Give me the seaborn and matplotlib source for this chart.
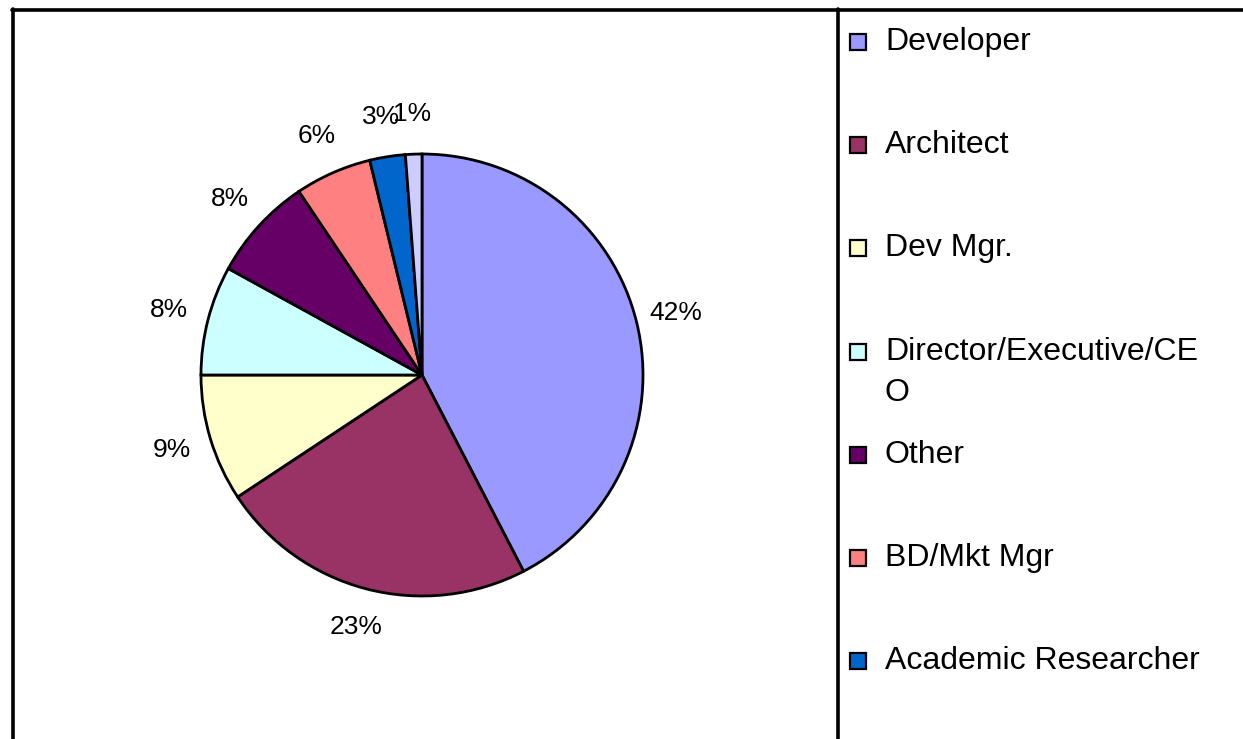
import textwrap
import matplotlib
matplotlib.use("Agg")
import matplotlib.pyplot as plt
import matplotlib.patches as mpatches
import seaborn as sns

# ---- data ----
categories = ["Developer", "Architect", "Dev Mgr.", "Director/Executive/CEO",
              "Other", "BD/Mkt Mgr", "Academic Researcher", "Unlisted"]
shares = [42.4, 23.3, 9.3, 8.0, 7.6, 5.6, 2.6, 1.2]
colors = ["#9999FF", "#993366", "#FFFFCC", "#CCFFFF",
          "#660066", "#FF8080", "#0066CC", "#CCCCFF"]

sns.set_theme(style="white")
plt.rcParams["font.family"] = ["Liberation Sans", "DejaVu Sans"]

W, H = 1243, 739
fig = plt.figure(figsize=(W / 100, H / 100), dpi=100)
fig.patch.set_facecolor("white")

def fx(px):
    return px / W

def fy(py):
    return 1 - py / H

# pie axes: centre (422, 375), radius 221 px
cx, cy, r = 422, 375, 221
ax = fig.add_axes([fx(cx - r), fy(cy + r), 2 * r / W, 2 * r / H])
wedges, texts, autotexts = ax.pie(
    shares, colors=colors, startangle=90, counterclock=False,
    autopct="%.0f%%", pctdistance=1.18,
    wedgeprops=dict(edgecolor="black", linewidth=2.0),
    textprops=dict(fontsize=19, color="black"),
)
ax.set_xlim(-1, 1)
ax.set_ylim(-1, 1)
ax.set_aspect("equal")
ax.axis("off")

# borders: top line, left line, divider
line_kw = dict(color="black", linewidth=2.6, transform=fig.transFigure)
fig.add_artist(plt.Line2D([fx(12), 1.0], [fy(10), fy(10)], **line_kw))
fig.add_artist(plt.Line2D([fx(13), fx(13)], [fy(9), 0], **line_kw))
fig.add_artist(plt.Line2D([fx(838), fx(838)], [fy(9), 0], **line_kw))

# legend drawn in the right panel (rows past the bottom edge are cut off, as in the original)
y0, dy = 42, 103.2
text_x = 885
for i, (lab, col) in enumerate(zip(categories, colors)):
    yc = y0 + i * dy
    if yc + 20 > H:
        continue
    rect = mpatches.Rectangle((fx(850), fy(yc + 8)), 16 / W, 16 / H,
                              facecolor=col, edgecolor="black", linewidth=1.6,
                              transform=fig.transFigure)
    fig.add_artist(rect)
    lines = textwrap.wrap(lab, 21)
    for j, ln in enumerate(lines):
        fig.text(fx(text_x), fy(yc + j * 41), ln, fontsize=23,
                 va="center", ha="left", color="black")

fig.savefig("out.png", dpi=100, facecolor="white")
